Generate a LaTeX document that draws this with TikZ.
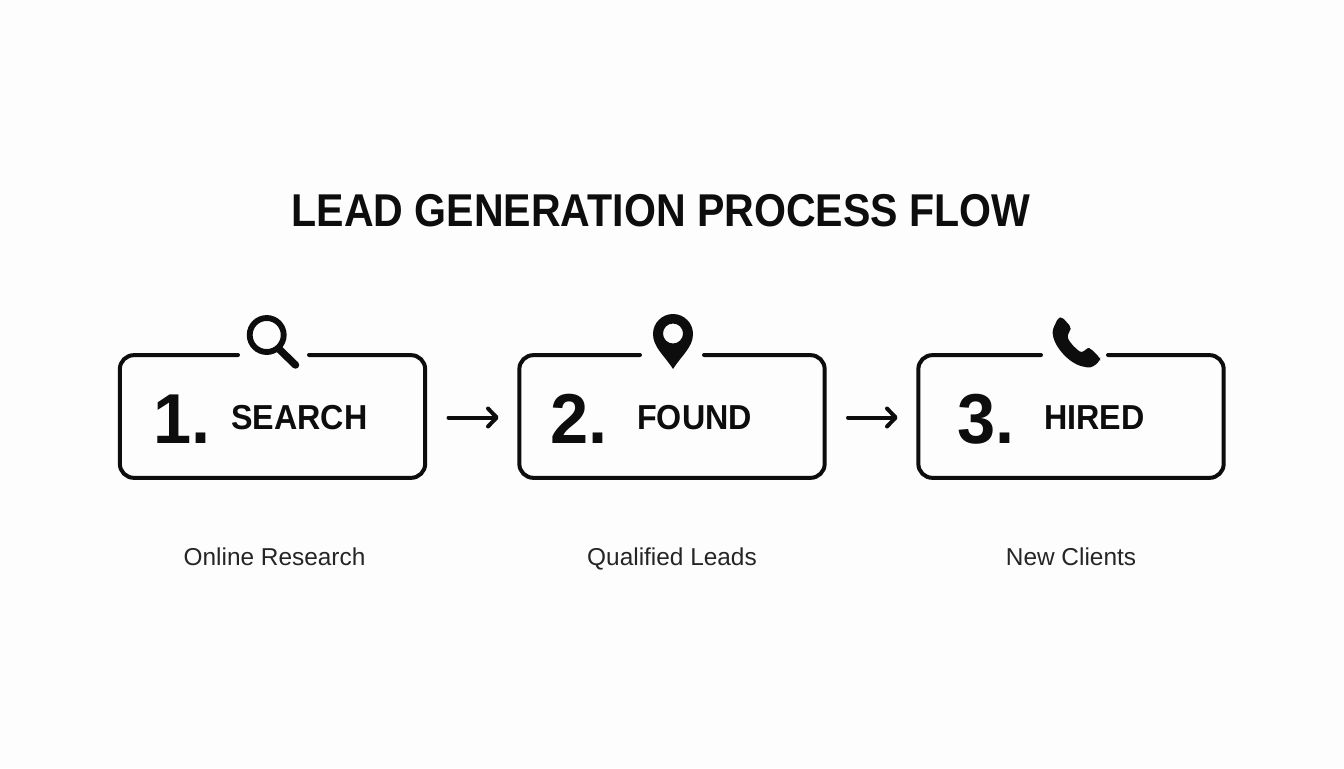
\documentclass[tikz,border=0pt]{standalone}
\usepackage{fontspec}
\usetikzlibrary{arrows.meta}
\setmainfont{Liberation Sans}
\definecolor{ink}{HTML}{0D0D0D}
\definecolor{paper}{HTML}{FDFDFD}
\tikzset{
  x=0.75pt,y=-0.75pt,
  boxframe/.style={line width=3pt,draw=ink,rounded corners=10.5pt,line cap=round},
  anchorbox/.style={minimum width=229pt,minimum height=92pt,inner sep=0pt,outer sep=0pt},
  flowarrow/.style={line width=3pt,draw=ink,line cap=round,line join=round,
    -{Straight Barb[length=6.5pt,width=13.5pt,line width=3pt,round]}},
  title/.style={font=\fontsize{34.5}{40}\selectfont\bfseries,text=ink,anchor=base,inner sep=0pt},
  numeral/.style={font=\fontsize{53}{60}\selectfont\bfseries,text=ink,anchor=base west,inner sep=0pt},
  stepname/.style={font=\fontsize{26}{30}\selectfont\bfseries,text=ink,anchor=base west,inner sep=0pt},
  caption/.style={font=\fontsize{18.3}{22}\selectfont,text=ink!90,anchor=base,inner sep=0pt},
}
\begin{document}
\begin{tikzpicture}
\useasboundingbox[fill=paper] (0,0) rectangle (1344,768);
\node[title] (t) at (661,226) {\scalebox{0.893}[1]{LEAD GENERATION PROCESS FLOW}};
% boxes
\node[anchorbox] (b1) at (272.5,416.5) {};
\node[anchorbox] (b2) at (672,416.5) {};
\node[anchorbox] (b3) at (1071,416.5) {};
\draw[boxframe] (238,355) -- (b1.north west) -- (b1.south west) -- (b1.south east) -- (b1.north east) -- (309,355);
\draw[boxframe] (640,355) -- (b2.north west) -- (b2.south west) -- (b2.south east) -- (b2.north east) -- (704,355);
\draw[boxframe] (1041,355) -- (b3.north west) -- (b3.south west) -- (b3.south east) -- (b3.north east) -- (1108,355);
% connectors
\foreach \a/\b in {b1/b2,b2/b3}{
  \draw[flowarrow,shorten <=17.5pt,shorten >=15.5pt] ([yshift=-0.75pt]\a.east) -- ([yshift=-0.75pt]\b.west);
}
% labels
\node[numeral] (n1) at (153,443) {\scalebox{0.97}[1]{1.}};
\node[numeral] (n2) at (550,443) {\scalebox{0.97}[1]{2.}};
\node[numeral] (n3) at (957.5,443) {\scalebox{0.97}[1]{3.}};
\node[stepname] (s1) at (231,429.5) {\scalebox{0.93}[1]{SEARCH}};
\node[stepname] (s2) at (637,429.5) {\scalebox{0.93}[1]{FOUND}};
\node[stepname] (s3) at (1044,429.5) {\scalebox{0.93}[1]{HIRED}};
\node[caption] (c1) at (274.5,565) {Online Research};
\node[caption] (c2) at (672,565) {Qualified Leads};
\node[caption] (c3) at (1071,565) {New Clients};
% magnifier
\draw[ink,line width=4.4pt] (266.7,335) circle (17);
\draw[ink,line width=5.6pt,line cap=round] (279,349) -- (295.5,365);
% pin
\fill[ink,even odd rule] (673,369) .. controls (664,355) and (653,347) .. (653,334)
  arc[start angle=180,end angle=360,radius=20] .. controls (693,347) and (682,355) .. (673,369) -- cycle
  (673,333.5) circle (10);
% phone
\fill[ink,rounded corners=2.2pt] (1058,318) -- (1062,317) -- (1071,327) -- (1070,331) -- (1067,336)
  .. controls (1070,343) and (1076,349) .. (1082,353) -- (1087,348) -- (1090,348) -- (1100,358) -- (1100,360)
  .. controls (1096,365) and (1091,368) .. (1085,367)
  .. controls (1068,363) and (1053,345) .. (1052.5,330) -- cycle;
\end{tikzpicture}
\end{document}
